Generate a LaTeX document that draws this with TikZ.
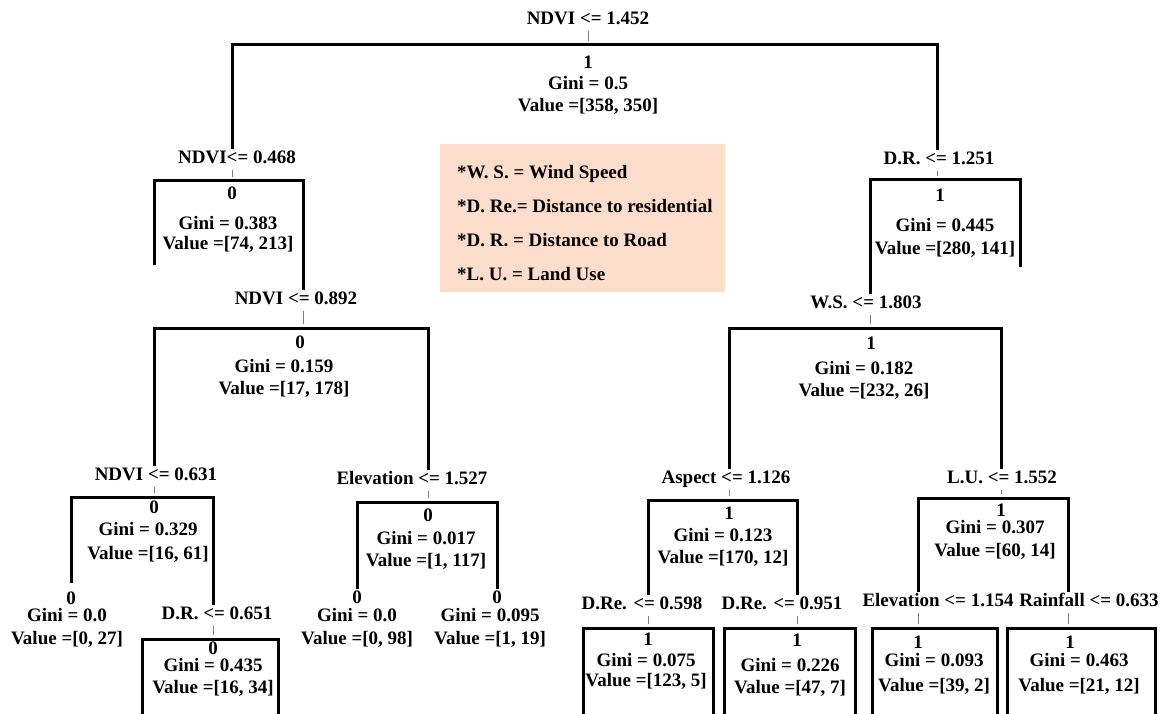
\documentclass[tikz,border=0pt]{standalone}
\usepackage{fontspec}
\setmainfont{Liberation Serif}
\usepackage{tikz}
\definecolor{keypeach}{RGB}{252,221,204}

\begin{document}
\begin{tikzpicture}[x=1pt, y=-1pt]

\tikzstyle{every node} = [inner sep=1pt, font=\bfseries\fontsize{19}{22}\selectfont]
\tikzstyle{split} = [text height=13pt, text depth=0pt]
\tikzstyle{cls} = [text height=13pt, text depth=0pt]
\tikzstyle{stats} = [align=center, anchor=north, yshift=7.5pt]
\tikzstyle{bar} = [line width=3pt]
\tikzstyle{tick} = [gray, line width=0.8pt, shorten <=5pt, shorten >=4pt]

\useasboundingbox (0,0) rectangle (1161,714);

% legend
\node[fill=keypeach, minimum width=285pt, minimum height=148pt, anchor=north west] (keybox) at (440,144) {};
\node[anchor=north west, yshift=7.5pt, align=left] (key) at (456,172) {*W. S. = Wind Speed\\[12pt]*D. Re.= Distance to residential\\[12pt]*D. R. = Distance to Road\\[12pt]*L. U. = Land Use};

% root
\node[split] (a0) at (588,18) {NDVI <= 1.452};
\coordinate (b0) at (588,45);
\node[cls] (c0) at (588,62) {1};
\node[stats] (g0) at (588,83) {Gini = 0.5\\Value =[358, 350]};

\node[split] (a1) at (237,157) {NDVI<= 0.468};
\coordinate (b1) at (232,181);
\node[cls] (c1) at (232,193) {0};
\node[stats] (g1) at (228,223) {Gini = 0.383\\[-2pt]Value =[74, 213]};
\coordinate (e1) at (154,265);

\node[split] (a2) at (939,158) {D.R. <= 1.251};
\coordinate (b2) at (937,180);
\node[cls] (c2) at (940,195) {1};
\node[stats] (g2) at (945,225) {Gini = 0.445\\[1pt]Value =[280, 141]};
\coordinate (e2) at (1020,267);

\node[split] (a3) at (296,298) {NDVI <= 0.892};
\coordinate (b3) at (303,328);
\node[cls] (c3) at (300,342) {0};
\node[stats] (g3) at (284,366) {Gini = 0.159\\Value =[17, 178]};

\node[split] (a4) at (866,302) {W.S. <= 1.803};
\coordinate (b4) at (870,328);
\node[cls] (c4) at (871,343) {1};
\node[stats] (g4) at (864,368) {Gini = 0.182\\Value =[232, 26]};

\node[split] (a5) at (156,474) {NDVI <= 0.631};
\coordinate (b5) at (154,497);
\node[cls] (c5) at (154,507) {0};
\node[stats] (g5) at (148,529) {Gini = 0.329\\[2pt]Value =[16, 61]};

\node[split] (a6) at (412,478) {Elevation <= 1.527};
\coordinate (b6) at (428,502);
\node[cls] (c6) at (428,515) {0};
\node[stats] (g6) at (426,538) {Gini = 0.017\\Value =[1, 117]};

\node[split] (a7) at (726,477) {Aspect <= 1.126};
\coordinate (b7) at (729,500);
\node[cls] (c7) at (729,513) {1};
\node[stats] (g7) at (723,535) {Gini = 0.123\\Value =[170, 12]};

\node[split] (a8) at (1002,477) {L.U. <= 1.552};
\coordinate (b8) at (1001,498);
\node[cls] (c8) at (1001,510) {1};
\node[stats] (g8) at (995,527) {Gini = 0.307\\[1pt]Value =[60, 14]};

% leaves
\node[cls] (c15) at (71,598) {0};
\node[stats] (g15) at (67,615) {Gini = 0.0\\[1pt]Value =[0, 27]};
\node[cls] (c16) at (357,597) {0};
\node[stats] (g16) at (357,615) {Gini = 0.0\\[1pt]Value =[0, 98]};
\node[cls] (c17) at (497,597) {0};
\node[stats] (g17) at (490,615) {Gini = 0.095\\[1pt]Value =[1, 19]};

\node[split] (a9) at (217,613) {D.R. <= 0.651};
\coordinate (b9) at (213,639);
\node[cls] (c9) at (213,648) {0};
\node[stats] (g9) at (213,665) {Gini = 0.435\\Value =[16, 34]};

\node[split] (a10) at (642,603) {D.Re. <= 0.598};
\coordinate (b10) at (648,628);
\node[cls] (c10) at (648,639) {1};
\node[stats] (g10) at (646,660) {Gini = 0.075\\[-2pt]Value =[123, 5]};

\node[split] (a11) at (782,603) {D.Re. <= 0.951};
\coordinate (b11) at (797,628);
\node[cls] (c11) at (797,640) {1};
\node[stats] (g11) at (790,665) {Gini = 0.226\\Value =[47, 7]};

\node[split] (a12) at (938,600) {Elevation <= 1.154};
\coordinate (b12) at (918,628);
\node[cls] (c12) at (918,642) {1};
\node[stats] (g12) at (934,660) {Gini = 0.093\\[3pt]Value =[39, 2]};

\node[split] (a13) at (1089,600) {Rainfall <= 0.633};
\coordinate (b13) at (1068,628);
\node[cls] (c13) at (1070,642) {1};
\node[stats] (g13) at (1079,660) {Gini = 0.463\\[3pt]Value =[21, 12]};

% open ends at the bottom
\coordinate (f9l) at (142,720);
\coordinate (f9r) at (278,720);
\coordinate (f10l) at (583,720);
\coordinate (f10r) at (713,720);
\coordinate (f11l) at (724,720);
\coordinate (f11r) at (855,720);
\coordinate (f12l) at (872,720);
\coordinate (f12r) at (997,720);
\coordinate (f13l) at (1007,720);
\coordinate (f13r) at (1155,720);

\draw[tick] (a0.south -| b0) -- (b0);
\draw[tick] (a1.south -| b1) -- (b1);
\draw[tick] (a2.south -| b2) -- (b2);
\draw[tick] (a3.south -| b3) -- (b3);
\draw[tick] (a4.south -| b4) -- (b4);
\draw[tick] (a5.south -| b5) -- (b5);
\draw[tick] (a6.south -| b6) -- (b6);
\draw[tick] (a7.south -| b7) -- (b7);
\draw[tick] (a8.south -| b8) -- (b8);
\draw[tick] (a9.south -| b9) -- (b9);
\draw[tick] (a10.south -| b10) -- (b10);
\draw[tick] (a11.south -| b11) -- (b11);
\draw[tick] (a12.south -| b12) -- (b12);
\draw[tick] (a13.south -| b13) -- (b13);

\draw[bar] (a1.north -| b1) |- (b0) -| (a2.north -| b2);
\draw[bar] (e1) |- (b1) -| (a3.north -| b3);
\draw[bar] (a4.north -| b4) |- (b2) -| (e2);
\draw[bar] (a5.north -| b5) |- (b3) -| (a6.north -| b6);
\draw[bar] (a7.north -| b7) |- (b4) -| (a8.north -| b8);
\draw[bar, shorten <=7pt] (c15.north) |- (b5) -| (a9.north -| b9);
\draw[bar] (c16.north) |- (b6) -| (c17.north);
\draw[bar] (a10.north -| b10) |- (b7) -| (a11.north -| b11);
\draw[bar] (a12.north -| b12) |- (b8) -| (a13.north -| b13);

\draw[bar] (f9l) |- (b9) -| (f9r);
\draw[bar] (f10l) |- (b10) -| (f10r);
\draw[bar] (f11l) |- (b11) -| (f11r);
\draw[bar] (f12l) |- (b12) -| (f12r);
\draw[bar] (f13l) |- (b13) -| (f13r);

\end{tikzpicture}
\end{document}
